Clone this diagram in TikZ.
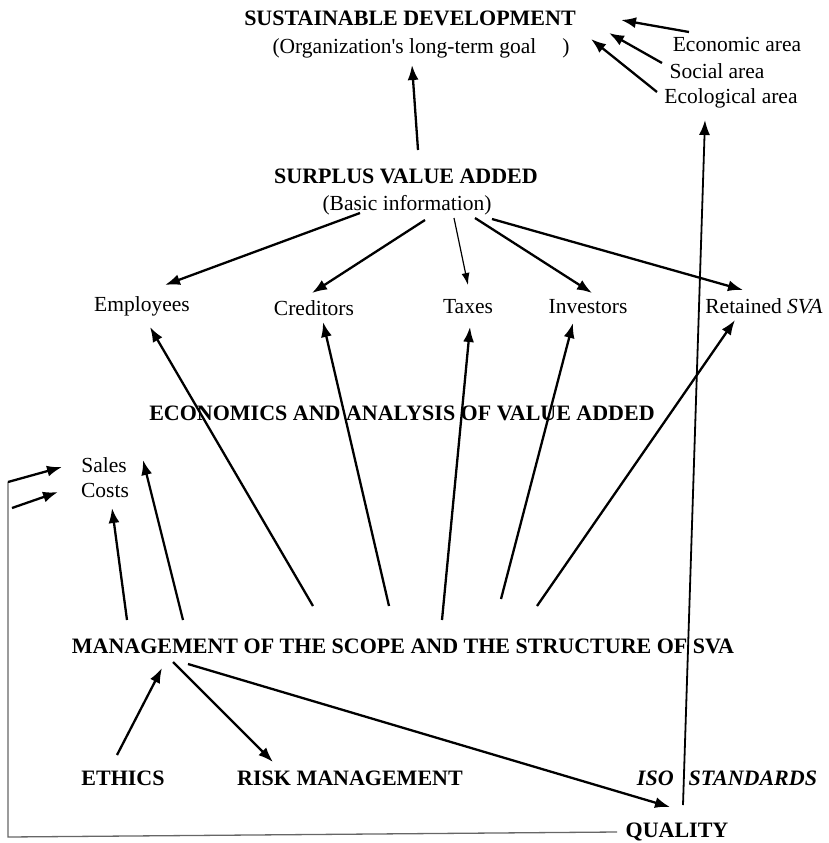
\documentclass[tikz,border=0pt]{standalone}
\usepackage{fontspec}
\setmainfont{Liberation Serif}[Ligatures=TeXOff]
\usetikzlibrary{arrows.meta}
\begin{document}
\begin{tikzpicture}[x=1pt,y=-1pt,
  lbl/.style={inner sep=0pt, anchor=base, font=\fontsize{21.5}{24}\selectfont},
  head/.style={inner sep=0pt, anchor=base, font=\fontsize{22}{26}\selectfont\bfseries},
  arr/.style={line width=2.3pt, -{Latex[length=15pt,width=11pt]}},
  thinarr/.style={line width=1.2pt, -{Latex[length=12pt,width=8pt]}},
  rule/.style={line width=1.3pt, draw=black!60},
  riser/.style={line width=1.8pt, -{Latex[length=15pt,width=11pt]}}]
\useasboundingbox (0,0) rectangle (829,843);

% ---- labels ----
\node[head] (sd)    at (410,26)  {SUSTAINABLE DEVELOPMENT};
\node[lbl]  (goal)  at (421,53)  {(Organization's long-term goal\hspace{26pt})};
\node[lbl]  (econ)  at (737,52)  {Economic area};
\node[lbl]  (soc)   at (717,78)  {Social area};
\node[lbl]  (ecol)  at (731,103) {Ecological area};
\node[head] (sva)   at (406,183) {SURPLUS VALUE ADDED};
\node[lbl]  (basic) at (407,210) {(Basic information)};
\node[lbl]  (emp)   at (142,311) {Employees};
\node[lbl]  (cred)  at (314,315) {Creditors};
\node[lbl]  (tax)   at (468,313) {Taxes};
\node[lbl]  (inv)   at (588,313) {Investors};
\node[lbl]  (ret)   at (764,313) {Retained \textit{SVA}};
\node[head] (eav)   at (402,420) {ECONOMICS AND ANALYSIS OF VALUE ADDED};
\node[lbl]  (sales) at (104,472) {Sales};
\node[lbl]  (costs) at (105,497) {Costs};
\node[head] (mgmt)  at (403,653) {MANAGEMENT OF THE SCOPE AND THE STRUCTURE OF SVA};
\node[head] (ethics) at (123,785) {ETHICS};
\node[head] (risk)  at (350,785) {RISK MANAGEMENT};
\node[head, font=\fontsize{22}{26}\selectfont\bfseries\itshape] (iso) at (727,785) {ISO\hspace{15pt}STANDARDS};
\node[head] (qual)  at (677,837) {QUALITY};

% ---- connector end points ----
\coordinate (econ-t) at (689,32);  \coordinate (econ-h) at (621,20);
\coordinate (soc-t)  at (662,63);  \coordinate (soc-h)  at (609,33);
\coordinate (ecol-t) at (657,92);  \coordinate (ecol-h) at (591,39);
\coordinate (sva-up) at (418,150); \coordinate (sd-in)  at (412,65);

\coordinate (sva-emp)  at (360,213); \coordinate (emp-in)  at (165,285);
\coordinate (sva-cred) at (425,220); \coordinate (cred-in) at (312,293);
\coordinate (sva-tax)  at (454,218); \coordinate (tax-in)  at (468,285);
\coordinate (sva-inv)  at (475,218); \coordinate (inv-in)  at (592,293);
\coordinate (sva-ret)  at (492,219); \coordinate (ret-in)  at (743,290);

\coordinate (m-costs) at (127,620); \coordinate (costs-up) at (112,508);
\coordinate (m-sales) at (183,620); \coordinate (sales-up) at (143,460);
\coordinate (m-emp)   at (313,606); \coordinate (emp-up)   at (150,327);
\coordinate (m-cred)  at (389,606); \coordinate (cred-up)  at (323,322);
\coordinate (m-tax)   at (442,620); \coordinate (tax-up)   at (470,327);
\coordinate (m-inv)   at (501,599); \coordinate (inv-up)   at (573,323);
\coordinate (m-ret)   at (537,606); \coordinate (ret-up)   at (735,320);

\coordinate (eth-t)  at (117,755); \coordinate (m-in)    at (162,668);
\coordinate (m-risk) at (173,662); \coordinate (risk-in) at (273,762);
\coordinate (m-qual) at (188,664); \coordinate (qual-in) at (670,807);
\coordinate (iso-t)  at (683,805); \coordinate (ecol-in) at (705,120);

\coordinate (brk-a) at (8,482);  \coordinate (brk-b) at (8,837);
\coordinate (brk-c) at (12,508);
\coordinate (sales-in) at (62,467); \coordinate (costs-in) at (58,492);
\coordinate (qual-w) at (617,832);

% ---- areas feeding sustainable development ----
\draw[arr] (econ-t) -- (econ-h);
\draw[arr] (soc-t)  -- (soc-h);
\draw[arr] (ecol-t) -- (ecol-h);
\draw[arr] (sva-up) -- (sd-in);

% ---- distribution of surplus value added ----
\draw[arr]     (sva-emp)  -- (emp-in);
\draw[arr]     (sva-cred) -- (cred-in);
\draw[thinarr] (sva-tax)  -- (tax-in);
\draw[arr]     (sva-inv)  -- (inv-in);
\draw[arr]     (sva-ret)  -- (ret-in);

% ---- management of the scope and structure ----
\draw[arr] (m-costs) -- (costs-up);
\draw[arr] (m-sales) -- (sales-up);
\draw[arr] (m-emp)   -- (emp-up);
\draw[arr] (m-cred)  -- (cred-up);
\draw[arr] (m-tax)   -- (tax-up);
\draw[arr] (m-inv)   -- (inv-up);
\draw[arr] (m-ret)   -- (ret-up);

\draw[arr] (eth-t)  -- (m-in);
\draw[arr] (m-risk) -- (risk-in);
\draw[arr] (m-qual) -- (qual-in);
\draw[riser] (iso-t) -- (ecol-in);

% ---- quality loop back to sales and costs ----
\draw[rule] (brk-a) -- (brk-b) -- (qual-w);
\draw[arr] (brk-a) -- (sales-in);
\draw[arr] (brk-c) -- (costs-in);
\end{tikzpicture}
\end{document}
